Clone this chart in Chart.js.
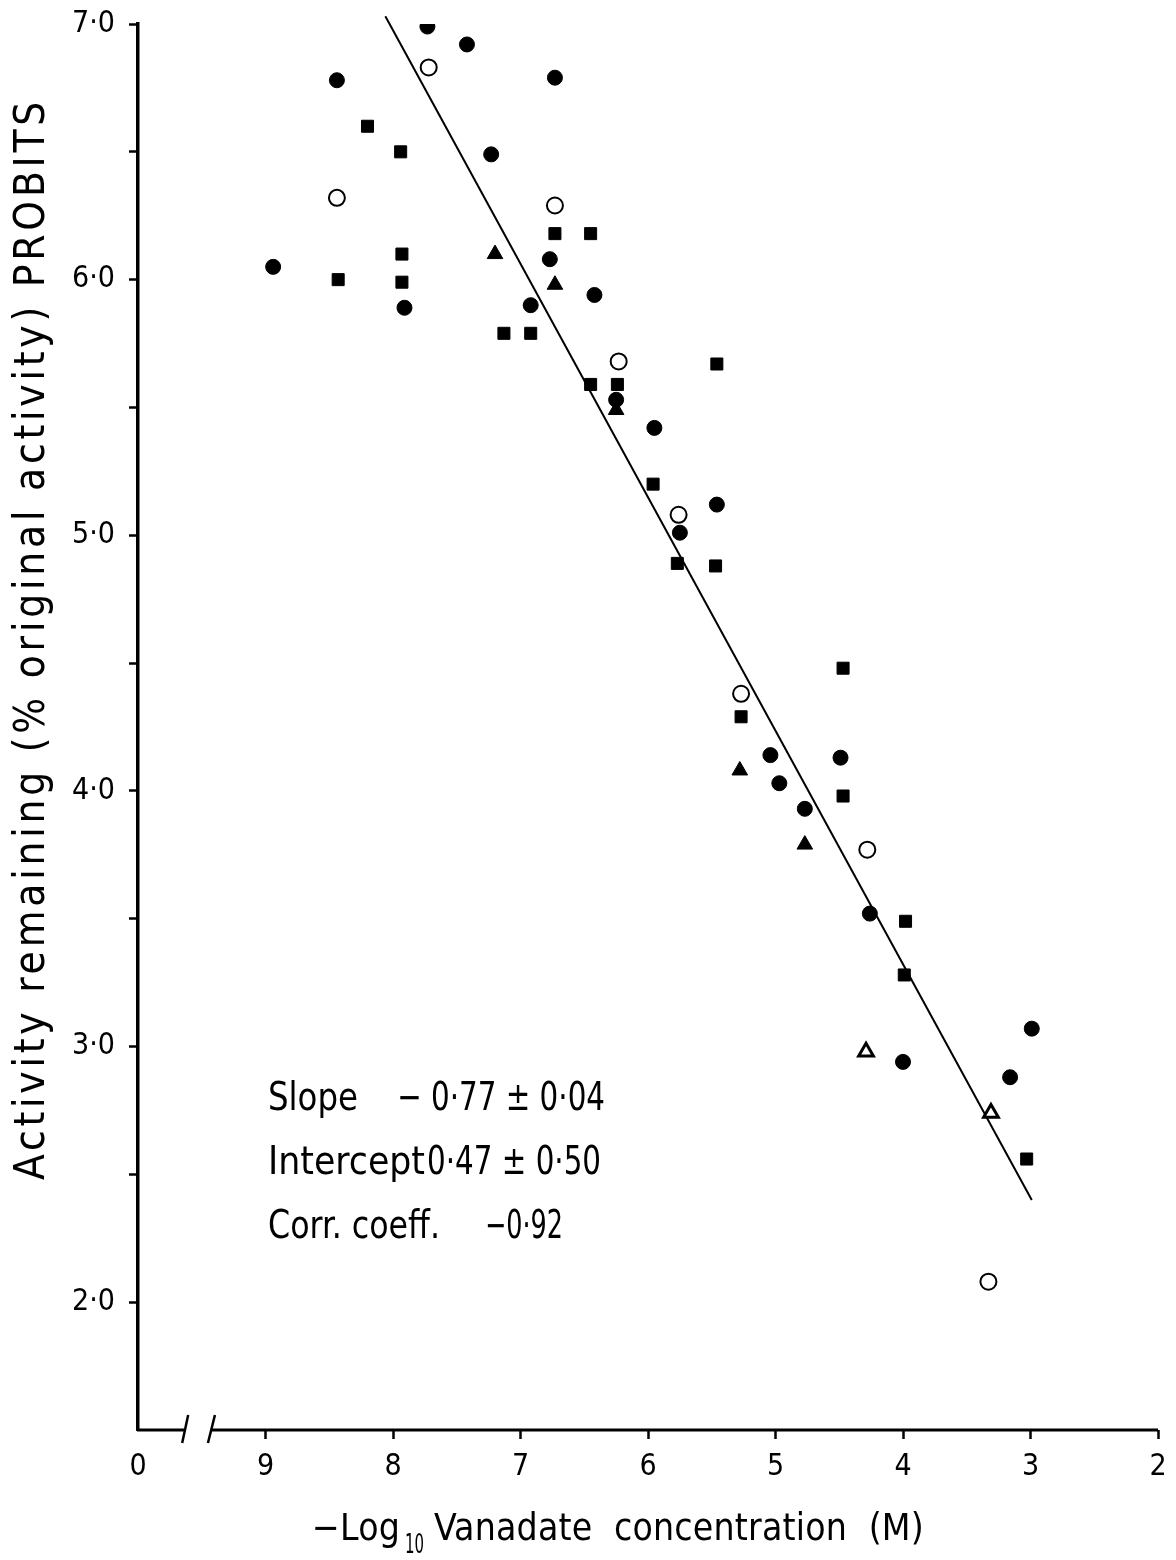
<!DOCTYPE html>
<html>
<head>
<meta charset="utf-8">
<title>Vanadate probit plot</title>
<script src="https://cdn.jsdelivr.net/npm/chart.js@4.4.0/dist/chart.umd.min.js"></script>
<style>
  html, body { margin: 0; padding: 0; background: #fff; }
  canvas { display: block; }
</style>
</head>
<body>
<canvas id="probitChart" width="1176" height="1560"></canvas>
<script>
const FONT = "'DejaVu Sans Condensed', 'Liberation Sans Narrow', 'DejaVu Sans', sans-serif";

// x = -log10 vanadate concentration, y = probit of activity remaining
const solidCircleX = [8.94, 8.44, 7.73, 7.42, 6.73, 7.23, 7.91, 6.92, 6.77, 6.42, 6.25, 5.95, 5.75, 5.46, 5.04, 4.97, 4.77, 4.49, 4.26, 4.00, 3.16, 2.99];
const solidCircleY = [6.05, 6.78, 6.99, 6.92, 6.79, 6.49, 5.89, 5.90, 6.08, 5.94, 5.53, 5.42, 5.01, 5.12, 4.14, 4.03, 3.93, 4.13, 3.52, 2.94, 2.88, 3.07];

const openCircleX = [7.72, 8.44, 6.73, 6.23, 5.76, 5.27, 4.28, 3.33];
const openCircleY = [6.83, 6.32, 6.29, 5.68, 5.08, 4.38, 3.77, 2.08];

const squareX = [8.20, 7.94, 8.43, 7.93, 7.93, 7.13, 6.92, 6.73, 6.45, 6.45, 6.24, 5.46, 5.96, 5.77, 5.47, 4.47, 5.27, 4.47, 3.98, 3.99, 3.03];
const squareY = [6.60, 6.50, 6.00, 6.10, 5.99, 5.79, 5.79, 6.18, 6.18, 5.59, 5.59, 5.67, 5.20, 4.89, 4.88, 4.48, 4.29, 3.98, 3.49, 3.28, 2.56];

const triangleX = [7.20, 6.73, 6.25, 5.28, 4.77];
const triangleY = [6.10, 5.98, 5.49, 4.08, 3.79];

const openTriangleX = [4.29, 3.31];
const openTriangleY = [2.98, 2.74];

// fitted regression line end points
const fitX = [8.06, 2.99];
const fitY = [7.03, 2.40];

const xTicks = [10, 9, 8, 7, 6, 5, 4, 3, 2];
const xTickLabels = ['0', '9', '8', '7', '6', '5', '4', '3', '2'];
const axisBreak = [9.63, 9.42];

const statLabels = ['Slope', 'Intercept', 'Corr. coeff.'];
const statValues = ['\u2212 0\u00b777 \u00b1 0\u00b704', '0\u00b747 \u00b1 0\u00b750', '\u22120\u00b792'];

const pts = (xs, ys) => xs.map((x, i) => ({x: x, y: ys[i]}));

// draw text at a given width: squeeze glyphs if too wide, add spacing if too narrow
function fitText(ctx, text, x, y, width) {
  const hasSpacing = 'letterSpacing' in ctx;
  if (hasSpacing) ctx.letterSpacing = '0px';
  const w = ctx.measureText(text).width;
  if (w > width || !hasSpacing) {
    ctx.save();
    ctx.translate(x, y);
    ctx.scale(width / w, 1);
    ctx.fillText(text, 0, 0);
    ctx.restore();
  } else {
    ctx.letterSpacing = ((width - w) / [...text].length).toFixed(2) + 'px';
    ctx.fillText(text, x, y);
    ctx.letterSpacing = '0px';
  }
}

const axisExtras = {
  id: 'axisExtras',
  afterDraw(chart) {
    const ctx = chart.ctx;
    const xs = chart.scales.x;
    const ys = chart.scales.y;
    const y0 = ys.getPixelForValue(1.5);
    const left = xs.getPixelForValue(10);
    const right = xs.getPixelForValue(2);
    const b1 = xs.getPixelForValue(axisBreak[0]);
    const b2 = xs.getPixelForValue(axisBreak[1]);
    ctx.save();
    ctx.strokeStyle = '#000';
    ctx.lineWidth = 3;
    ctx.beginPath();
    ctx.moveTo(left - 1, y0);
    ctx.lineTo(b1, y0);
    ctx.moveTo(b2, y0);
    ctx.lineTo(right, y0);
    ctx.stroke();
    // break slashes
    ctx.lineWidth = 2.5;
    ctx.beginPath();
    ctx.moveTo(b1 - 3, y0 + 13);
    ctx.lineTo(b1 + 3, y0 - 15);
    ctx.moveTo(b2 - 4, y0 + 13);
    ctx.lineTo(b2 + 3, y0 - 15);
    ctx.stroke();

    ctx.fillStyle = '#000';
    ctx.textBaseline = 'alphabetic';
    ctx.textAlign = 'left';

    // x title with subscript
    ctx.font = '37px ' + FONT;
    fitText(ctx, '\u2212Log', 312, 1540, 88);
    ctx.font = '26px ' + FONT;
    fitText(ctx, '10', 405, 1553, 19);
    ctx.font = '37px ' + FONT;
    fitText(ctx, 'Vanadate  concentration  (M)', 434, 1540, 490);

    // y title
    ctx.save();
    ctx.translate(44, 1180);
    ctx.rotate(-Math.PI / 2);
    ctx.font = '42px ' + FONT;
    fitText(ctx, 'Activity remaining (% original activity) PROBITS', 0, 0, 1082);
    ctx.restore();

    // fit statistics
    ctx.font = '39px ' + FONT;
    const labelW = [90, 157, 172];
    const valueX = [397, 427, 485];
    const valueW = [208, 174, 78];
    statLabels.forEach((t, i) => {
      const by = 1110 + i * 64;
      fitText(ctx, t, 268, by, labelW[i]);
      fitText(ctx, statValues[i], valueX[i], by, valueW[i]);
    });
    ctx.restore();
  }
};

new Chart(document.getElementById('probitChart'), {
  type: 'scatter',
  data: {
    datasets: [
      {
        data: pts(solidCircleX, solidCircleY),
        pointStyle: 'circle', pointRadius: 7.5,
        backgroundColor: '#000', borderColor: '#000', borderWidth: 1
      },
      {
        data: pts(openCircleX, openCircleY),
        pointStyle: 'circle', pointRadius: 8,
        backgroundColor: '#fff', borderColor: '#000', borderWidth: 2
      },
      {
        data: pts(squareX, squareY),
        pointStyle: 'rect', pointRadius: 8.5,
        backgroundColor: '#000', borderColor: '#000', borderWidth: 1
      },
      {
        data: pts(triangleX, triangleY),
        pointStyle: 'triangle', pointRadius: 9,
        backgroundColor: '#000', borderColor: '#000', borderWidth: 1
      },
      {
        data: pts(openTriangleX, openTriangleY),
        pointStyle: 'triangle', pointRadius: 8.5,
        backgroundColor: '#fff', borderColor: '#000', borderWidth: 3
      },
      {
        type: 'line',
        data: pts(fitX, fitY),
        showLine: true, borderColor: '#000', borderWidth: 2,
        pointRadius: 0, fill: false, clip: false
      }
    ]
  },
  options: {
    responsive: false,
    animation: false,
    devicePixelRatio: 1,
    layout: { padding: { left: 0, right: 18, top: 24, bottom: 0 } },
    plugins: { legend: { display: false }, tooltip: { enabled: false } },
    scales: {
      x: {
        type: 'linear', reverse: true, min: 2, max: 10,
        afterFit: (scale) => { scale.height = 130; scale.paddingLeft = 0; scale.paddingRight = 0; },
        afterBuildTicks: (scale) => { scale.ticks = xTicks.map(v => ({value: v})); },
        border: { display: false },
        grid: {
          drawOnChartArea: false, drawTicks: true, tickLength: 9, tickWidth: 2.5,
          color: (c) => (c.tick && c.tick.value === 10) ? 'rgba(0,0,0,0)' : '#000'
        },
        ticks: {
          color: '#000', padding: 10,
          font: { family: FONT, size: 30 },
          callback: (v) => xTickLabels[xTicks.indexOf(v)]
        }
      },
      y: {
        type: 'linear', min: 1.5, max: 7,
        afterFit: (scale) => { scale.width = 138; scale.paddingTop = 0; scale.paddingBottom = 0; },
        afterBuildTicks: (scale) => { scale.ticks = scale.ticks.filter(t => t.value >= 2); },
        border: { display: true, color: '#000', width: 3.5 },
        grid: { drawOnChartArea: false, drawTicks: true, tickLength: 9, tickWidth: 2.5, color: '#000' },
        ticks: {
          stepSize: 0.5, color: '#000', padding: 14,
          font: { family: FONT, size: 30 },
          callback: (v) => Number.isInteger(v) ? v.toFixed(1).replace('.', '\u00b7') : ''
        }
      }
    }
  },
  plugins: [axisExtras]
});
</script>
</body>
</html>
